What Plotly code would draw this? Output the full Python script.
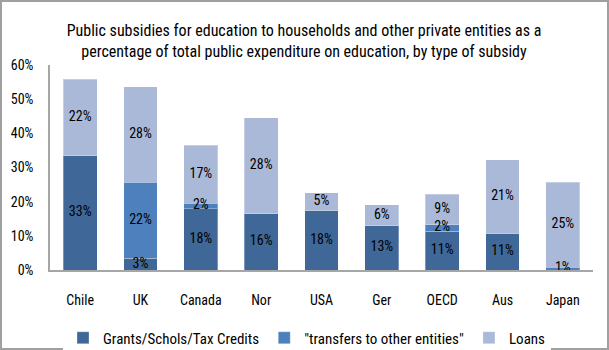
import plotly.graph_objects as go

countries = ["Chile", "UK", "Canada", "Nor", "USA", "Ger", "OECD", "Aus", "Japan"]
grants = [33.4, 3.4, 17.9, 16.4, 17.5, 13.0, 11.4, 10.8, 0.0]
transfers = [0.0, 22.3, 1.7, 0.0, 0.0, 0.0, 1.9, 0.0, 0.8]
loans = [22.4, 28.0, 16.9, 28.2, 5.1, 6.1, 8.9, 21.4, 24.9]

series = [
    ("Grants/Schols/Tax Credits", grants, "#3F6898"),
    ('"transfers to other entities"', transfers, "#4E80BD"),
    ("Loans", loans, "#AAB9D8"),
]

W, H = 609, 350
ml, mr, mt, mb = 50, 16, 65, 80
pw, ph = W - ml - mr, H - mt - mb
font = "Roboto Condensed, DejaVu Sans Condensed, sans-serif"

fig = go.Figure()
base = [0.0] * len(countries)
label_x, label_y, label_t = [], [], []
for name, vals, col in series:
    fig.add_trace(go.Bar(
        x=countries, y=vals, name=name,
        marker=dict(color=col, line=dict(color="rgba(255,255,255,0.3)", width=1)),
    ))
    for i, v in enumerate(vals):
        if v > 0:
            label_x.append(countries[i])
            label_y.append(base[i] + v / 2)
            label_t.append(f"{round(v)}%")
        base[i] += v

fig.add_trace(go.Scatter(
    x=label_x, y=label_y, text=label_t, mode="text", showlegend=False,
    textfont=dict(color="black", size=14, family=font), cliponaxis=False, hoverinfo="skip",
))

fig.update_layout(
    barmode="stack", bargap=0.44,
    width=W, height=H,
    margin=dict(l=ml, r=mr, t=mt, b=mb, autoexpand=False),
    paper_bgcolor="white", plot_bgcolor="white",
    font=dict(family=font, size=14, color="black"),
    title=dict(
        text="Public subsidies for education to households and other private entities as a<br>percentage of total public expenditure on education, by type of subsidy",
        x=304 / W, xanchor="center", y=1 - 36 / H, yanchor="middle",
        font=dict(family=font, size=16, color="black"),
    ),
    legend=dict(
        orientation="h", x=(307 - ml) / pw, xanchor="center",
        y=-(338 - (mt + ph)) / ph, yanchor="middle",
        font=dict(family=font, size=15), itemwidth=30,
        traceorder="normal",
    ),
    showlegend=True,
)
fig.update_xaxes(showline=True, linecolor="#A6A6A6", linewidth=1.5, ticks="", automargin=False,
                 tickfont=dict(size=14), ticklabelstandoff=16)
fig.update_yaxes(range=[0, 60], dtick=10, ticksuffix="%", showgrid=False, zeroline=False,
                 showline=True, linecolor="#A6A6A6", linewidth=1.5, tickfont=dict(size=14),
                 ticks="", ticklabelstandoff=12, automargin=False)
fig.add_shape(type="rect", xref="paper", yref="paper",
              x0=-(ml - 1) / pw, x1=1 + (mr - 1) / pw, y0=-(mb - 1) / ph, y1=1 + (mt - 1) / ph,
              line=dict(color="#A0A0A0", width=2), layer="below")
fig.write_html("out.html")
